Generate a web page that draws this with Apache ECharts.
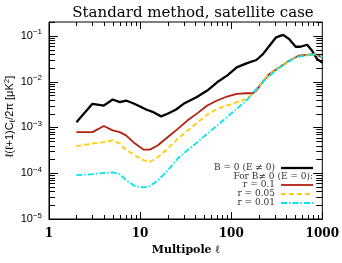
<!DOCTYPE html>
<html><head><meta charset="utf-8">
<script src="https://cdn.jsdelivr.net/npm/echarts@6/dist/echarts.min.js"></script>
<style>html,body{margin:0;padding:0;background:#fff}#c{width:342px;height:263px}</style>
</head><body><div id="c"></div>
<script>
// ---- data ----
const blackL = [2,3,4,5,6,7,8.5,10,11.8,14,17,20,24.6,30,42,54.6,70,90,115,147,189,223,263,310,372,432,510,576,682,772,875,1000];
const blackV = [1.30e-3,3.27e-3,3.0e-3,4.07e-3,3.55e-3,3.86e-3,3.33e-3,2.87e-3,2.43e-3,2.15e-3,1.74e-3,1.99e-3,2.43e-3,3.27e-3,4.6e-3,6.37e-3,9.66e-3,1.35e-2,2.04e-2,2.5e-2,2.96e-2,3.98e-2,6.07e-2,9.2e-2,0.105,8.5e-2,5.76e-2,5.76e-2,6.37e-2,4.72e-2,3.12e-2,2.6e-2];
const redL = [2,3,4,5,6,7,8.8,10.9,12.8,15.7,20.2,25.9,33,42,54.6,70,90,115,147,173,189,213,263,336,432,550,710,835,1000];
const redV = [7.9e-4,7.9e-4,1.07e-3,8.6e-4,7.9e-4,6.7e-4,4.43e-4,3.27e-4,3.27e-4,4.07e-4,6.17e-4,9.3e-4,1.41e-3,2.0e-3,3.0e-3,3.86e-3,4.72e-3,5.4e-3,5.57e-3,5.57e-3,6.37e-3,8.9e-3,1.47e-2,2.04e-2,2.86e-2,3.67e-2,3.86e-2,3.98e-2,3.38e-2];
const yelL = [2,3,4,5,6,7,8.8,10.9,12.8,15.7,20.2,25.9,31.8,42,54.6,70,90,115,147,173,205,240,310,390,510,640,835,1000];
const yelV = [3.92e-4,4.43e-4,4.79e-4,5.2e-4,4.43e-4,3.27e-4,2.45e-4,1.92e-4,1.76e-4,2.26e-4,3.44e-4,5.68e-4,7.9e-4,1.25e-3,1.9e-3,2.55e-3,3.0e-3,3.55e-3,4.2e-3,5.4e-3,8.2e-3,1.24e-2,1.8e-2,2.5e-2,3.4e-2,3.7e-2,3.95e-2,3.4e-2];
const cyanL = [2,3,4,5,6,7,8.8,10.9,12.8,15.7,20.2,25.9,33,40.8,54.6,70,90,115,147,189,240,310,390,510,640,835,940,1000];
const cyanV = [9.05e-5,9.5e-5,1.02e-4,1.04e-4,9.5e-5,7.05e-5,5.2e-5,4.9e-5,5.2e-5,7.05e-5,1.16e-4,2.09e-4,3.16e-4,4.43e-4,7.3e-4,1.1e-3,1.67e-3,2.55e-3,3.86e-3,6.93e-3,1.15e-2,1.74e-2,2.43e-2,3.38e-2,3.67e-2,3.98e-2,3.67e-2,3.38e-2];
const seriesNames = ['B = 0 (E \u2260 0)','r = 0.1','r = 0.05','r = 0.01'];
const legendHeader = 'For B\u2260 0 (E = 0):';
const xTickLabels = [1,10,100,1000];
const yTickExps = [-5,-4,-3,-2,-1];
const xMin = 1, xMax = 1000, yMin = 1e-5, yMax = 0.2;

const zip = (a,b) => a.map((v,i)=>[v,b[i]]);
const chart = echarts.init(document.getElementById('c'), null, {renderer:'canvas'});
const serif = '"DejaVu Serif", serif';
const sans = '"Liberation Sans", Arial, sans-serif';

const colors = ['#000000','#b22010','#ffcc00','#00e5ee'];
const dashes = [null,null,[5,3],[6,2,1.5,2]];
const widths = [2.3,1.8,1.8,1.8];
const datas = [zip(blackL,blackV),zip(redL,redV),zip(yelL,yelV),zip(cyanL,cyanV)];

chart.setOption({
  animation:false,
  backgroundColor:'#fff',
  title:{text:'Standard method, satellite case',left:188,top:1,textAlign:'center',
    textStyle:{fontFamily:serif,fontSize:15,fontWeight:'normal',color:'#000'}},
  grid:{left:49,right:15,top:22,bottom:44,show:true,borderColor:'#000',borderWidth:1,containLabel:false},
  xAxis:{type:'log',logBase:10,min:xMin,max:xMax,
    name:'Multipole \u2113',nameLocation:'middle',nameGap:18,
    nameTextStyle:{fontFamily:serif,fontSize:11,fontWeight:'bold',color:'#000'},
    axisLine:{show:true,lineStyle:{color:'#000',width:1}},
    axisTick:{show:false},splitLine:{show:false},minorTick:{show:false},
    axisLabel:{margin:9,fontFamily:serif,fontSize:12,fontWeight:'bold',color:'#000',
      showMinLabel:true,showMaxLabel:true,
      formatter:v=>{const e=Math.log10(v);const r=Math.round(e);return Math.abs(e-r)<1e-6&&xTickLabels.indexOf(Math.pow(10,r))>=0?String(Math.round(Math.pow(10,r))):'';}}},
  yAxis:{type:'log',logBase:10,min:yMin,max:yMax,
    axisLine:{show:true,lineStyle:{color:'#000',width:1}},
    axisTick:{show:false},splitLine:{show:false},minorTick:{show:false},
    axisLabel:{margin:7,color:'#000',
      formatter:v=>{const e=Math.log10(v);const r=Math.round(e);if(Math.abs(e-r)>1e-6||yTickExps.indexOf(r)<0)return '';return '{b|10}{s|\u2212'+(-r)+'}';},
      rich:{b:{fontFamily:sans,fontSize:11,color:'#000'},s:{fontFamily:sans,fontSize:8,color:'#000',padding:[0,0,7,0]}}}},
  series:datas.map((d,i)=>({type:'line',name:seriesNames[i],data:d,showSymbol:false,symbol:'none',
    lineStyle:{color:colors[i],width:widths[i],type:dashes[i]||'solid'},z:2+i}))
});

// ticks (inside, mirrored) + legend + y-axis title
function build(){
  const g=[];
  const px=v=>chart.convertToPixel({xAxisIndex:0},v);
  const py=v=>chart.convertToPixel({yAxisIndex:0},v);
  const L=px(xMin),R=px(xMax),T=py(yMax),B=py(yMin);
  const ln=(x1,y1,x2,y2)=>g.push({type:'line',shape:{x1,y1,x2,y2},style:{stroke:'#000',lineWidth:1},z:50,silent:true});
  for(let d=0;d<3;d++){for(let k=1;k<=9;k++){const v=k*Math.pow(10,d);if(v>xMax)break;const x=Math.round(px(v))+0.5;const len=k===1?7:4;ln(x,B,x,B-len);ln(x,T,x,T+len);}}
  ln(Math.round(px(1000))+0.5,B,Math.round(px(1000))+0.5,B-7);
  for(let d=-5;d<=-1;d++){for(let k=1;k<=9;k++){const v=k*Math.pow(10,d);if(v>yMax)break;const y=Math.round(py(v))+0.5;const len=k===1?9:6;ln(L,y,L+len,y);ln(R,y,R-len,y);}}
  // legend
  const rows=[[seriesNames[0],168,0],[legendHeader,177,-1],[seriesNames[1],185,1],[seriesNames[2],194,2],[seriesNames[3],203,3]];
  rows.forEach(([t,y,ci])=>{
    const hx = ci<0?313:275;
    g.push({type:'text',x:hx,y:y,style:{text:t,fill:'#333',font:'9px '+serif,textAlign:'right',textVerticalAlign:'middle'},z:60});
    if(ci>=0){g.push({type:'line',shape:{x1:281,y1:y,x2:313,y2:y},style:{stroke:colors[ci],lineWidth:widths[ci],lineDash:dashes[ci]||null},z:60});}
  });
  g.push({type:'text',x:10,y:(T+B)/2-4,rotation:Math.PI/2,
    style:{text:'{a|\u2113(\u2113+1)C}{sub|\u2113}{a|/2\u03c0 [\u03bcK}{sup|2}{a|]}',textAlign:'center',textVerticalAlign:'middle',
      rich:{a:{fontFamily:sans,fontSize:11,fill:'#000'},sub:{fontFamily:sans,fontSize:8,fill:'#000',padding:[5,0,0,0]},sup:{fontFamily:sans,fontSize:8,fill:'#000',padding:[0,0,6,0]}}},z:60});
  chart.setOption({graphic:g});
}
build();
</script></body></html>
